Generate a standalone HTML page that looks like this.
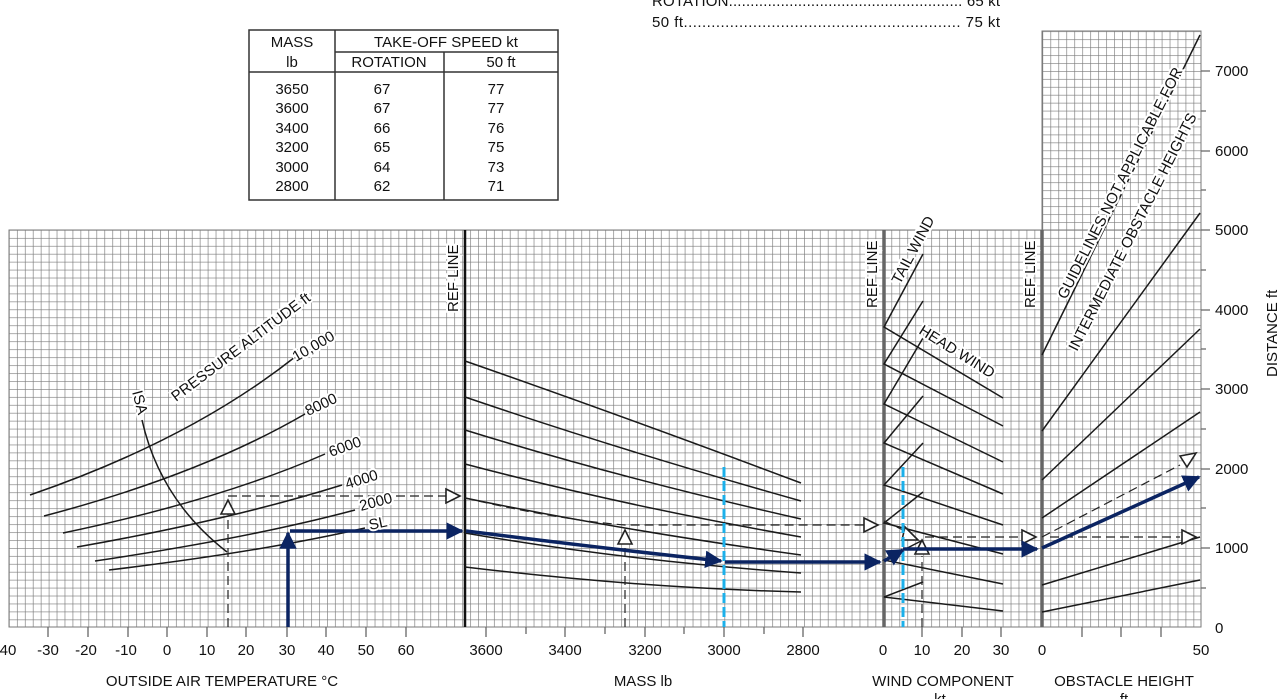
<!DOCTYPE html>
<html><head><meta charset="utf-8"><style>
html,body{margin:0;padding:0;background:#fff;}
svg{display:block;font-family:"Liberation Sans",Arial,sans-serif;}
</style></head><body>
<svg width="1280" height="699" viewBox="0 0 1280 699" xmlns="http://www.w3.org/2000/svg">
<defs>
<pattern id="g" x="9" y="230" width="7.95" height="7.95" patternUnits="userSpaceOnUse">
<path d="M0 0H7.95M0 0V7.95" stroke="#7a7a7a" stroke-width="1.3" fill="none"/>
</pattern>
<marker id="ab" viewBox="0 0 10 10" refX="9" refY="5" markerWidth="5" markerHeight="5" orient="auto"><path d="M0 0L10 5L0 10z" fill="#0b2462"/></marker>
</defs>
<rect x="9" y="230" width="1192" height="397" fill="url(#g)" stroke="#7a7a7a"/>
<rect x="1042" y="31" width="159" height="199" fill="url(#g)" stroke="#7a7a7a"/>
<g stroke="#666" stroke-width="1.3">
<path d="M48 627V637M88 627V637M128 627V637M167 627V637M207 627V637M246 627V637M287 627V637M326 627V637M366 627V637M406 627V637"/>
<path d="M486 627V637M526 627V634M565 627V637M605 627V634M645 627V637M684 627V634M724 627V637M764 627V634M803 627V637"/>
<path d="M922 627V637M962 627V637M1001 627V637M1082 627V637M1121 627V637M1161 627V637"/>
<path d="M1201 71H1210M1201 151H1210M1201 230H1210M1201 310H1210M1201 389H1210M1201 469H1210M1201 548H1210M1201 111H1206M1201 190H1206M1201 270H1206M1201 349H1206M1201 429H1206M1201 508H1206M1201 588H1206"/>
</g>
<path d="M465 230V627" stroke="#111" stroke-width="2.5"/>
<path d="M884 230V627M1042 230V627" stroke="#666" stroke-width="3.5"/>
<g stroke="#1a1a1a" stroke-width="1.5" fill="none">
<path d="M30 495Q190 440 295 357"/>
<path d="M44 516Q200 475 305 414"/>
<path d="M63 533Q220 500 325 454"/>
<path d="M77 547Q230 520 342 485"/>
<path d="M95 561Q250 538 355 510"/>
<path d="M109 570Q260 552 365 528"/>
<path d="M142 420Q160 500 227 552"/>
<path d="M465 361Q620 415 801 483"/>
<path d="M465 397Q620 450 801 501"/>
<path d="M465 430Q620 478 801 519"/>
<path d="M465 464Q620 505 801 537"/>
<path d="M465 498Q620 530 801 555"/>
<path d="M465 533Q620 560 801 573"/>
<path d="M465 567Q640 588 801 592"/>
<path d="M923 254L884 327L1003 398M923 301L884 364L1003 426M923 338L884 404L1003 462M923 396L884 443L1003 494M923 443L884 485L1003 525M923 492L884 523L1003 554M923 540L884 560L1003 584M923 582L884 597L1003 611"/>
<path d="M1042 355L1200 35M1042 431L1200 213M1042 480L1200 329M1042 518L1200 412M1042 585L1200 537M1042 612L1200 580"/>
</g>
<g stroke="#222" stroke-width="1.2" fill="none" stroke-dasharray="9 5">
<path d="M228 627V510M228 496H448"/>
<path d="M625 627V545M465 498Q560 520 625 525H864"/>
<path d="M884 521L905 531"/>
<path d="M922 627V556M925 537H1022M1050 537H1180M1042 537L1180 465"/>
</g>
<g stroke="#222" stroke-width="1.6" fill="#fff">
<path d="M221 514L228 500L235 514z"/>
<path d="M446 489L460 496L446 503z"/>
<path d="M618 544L625 530L632 544z"/>
<path d="M864 518L878 525L864 532z"/>
<path d="M905 527L918 540L902 540z"/>
<path d="M915 554L922 540L929 554z"/>
<path d="M1022 530L1036 537L1022 544z"/>
<path d="M1182 530L1196 537L1182 544z"/>
<path d="M1180 456L1196 453L1187 467z"/>
</g>
<path d="M724 467V627M903 467V627" stroke="#1cb0ea" stroke-width="3" stroke-dasharray="10 4"/>
<g stroke="#0b2462" stroke-width="3.5" fill="none" marker-end="url(#ab)">
<path d="M288 627V533"/>
<path d="M290 531H462"/>
<path d="M466 531Q600 548 721 561"/>
<path d="M725 562H880"/>
<path d="M884 561L903 550"/>
<path d="M903 549H1037"/>
<path d="M1042 548L1199 477"/>
</g>
<g font-size="15" fill="#111" stroke="#fff" stroke-width="4" paint-order="stroke">
<text transform="translate(458,312) rotate(-90)">REF LINE</text>
<text transform="translate(877,308) rotate(-90)">REF LINE</text>
<text transform="translate(1035,308) rotate(-90)">REF LINE</text>
<text transform="translate(176,402) rotate(-37)">PRESSURE ALTITUDE  ft</text>
<text transform="translate(132,392) rotate(75)">ISA</text>
<text transform="translate(296,362) rotate(-30)">10,000</text>
<text transform="translate(308,416) rotate(-25)">8000</text>
<text transform="translate(331,457) rotate(-20)">6000</text>
<text transform="translate(347,489) rotate(-17)">4000</text>
<text transform="translate(361,511) rotate(-15)">2000</text>
<text transform="translate(370,530) rotate(-12)">SL</text>
<text transform="translate(900,285) rotate(-62)">TAIL WIND</text>
<text transform="translate(918,333) rotate(32)">HEAD WIND</text>
<text transform="translate(1066,300) rotate(-63)">GUIDELINES NOT APPLICABLE FOR</text>
<text transform="translate(1077,352) rotate(-63)">INTERMEDIATE OBSTACLE HEIGHTS</text>
</g>
<g font-size="15" fill="#111" text-anchor="middle">
<text x="8" y="655">40</text><text x="48" y="655">-30</text><text x="86" y="655">-20</text><text x="126" y="655">-10</text><text x="167" y="655">0</text><text x="207" y="655">10</text><text x="246" y="655">20</text><text x="287" y="655">30</text><text x="326" y="655">40</text><text x="366" y="655">50</text><text x="406" y="655">60</text>
<text x="486" y="655">3600</text><text x="565" y="655">3400</text><text x="645" y="655">3200</text><text x="724" y="655">3000</text><text x="803" y="655">2800</text>
<text x="883" y="655">0</text><text x="922" y="655">10</text><text x="962" y="655">20</text><text x="1001" y="655">30</text><text x="1042" y="655">0</text><text x="1201" y="655">50</text>
<text x="222" y="686">OUTSIDE AIR TEMPERATURE °C</text>
<text x="643" y="686">MASS  lb</text>
<text x="943" y="686">WIND COMPONENT</text>
<text x="1124" y="686">OBSTACLE HEIGHT</text>
<text x="940" y="704">kt</text><text x="1124" y="704">ft</text>
</g>
<g font-size="15" fill="#111">
<text x="1215" y="76">7000</text><text x="1215" y="156">6000</text><text x="1215" y="235">5000</text><text x="1215" y="315">4000</text><text x="1215" y="394">3000</text><text x="1215" y="474">2000</text><text x="1215" y="553">1000</text><text x="1215" y="633">0</text>
<text transform="translate(1277,377) rotate(-90)">DISTANCE  ft</text>
<text x="652" y="6" textLength="348">ROTATION...................................................... 65 kt</text>
<text x="652" y="27" textLength="348">50 ft............................................................  75 kt</text>
</g>
<g stroke="#333" stroke-width="1.5" fill="none">
<rect x="249" y="30" width="309" height="170"/>
<path d="M249 72H558M335 30V200M335 52H558M444 52V200"/>
</g>
<g font-size="15" fill="#111" text-anchor="middle">
<text x="292" y="47">MASS</text><text x="292" y="67">lb</text>
<text x="446" y="47">TAKE-OFF SPEED kt</text>
<text x="389" y="67">ROTATION</text><text x="501" y="67">50 ft</text>
<text x="292" y="94">3650</text><text x="382" y="94">67</text><text x="496" y="94">77</text>
<text x="292" y="113">3600</text><text x="382" y="113">67</text><text x="496" y="113">77</text>
<text x="292" y="133">3400</text><text x="382" y="133">66</text><text x="496" y="133">76</text>
<text x="292" y="152">3200</text><text x="382" y="152">65</text><text x="496" y="152">75</text>
<text x="292" y="172">3000</text><text x="382" y="172">64</text><text x="496" y="172">73</text>
<text x="292" y="191">2800</text><text x="382" y="191">62</text><text x="496" y="191">71</text>
</g>
</svg>
</body></html>
